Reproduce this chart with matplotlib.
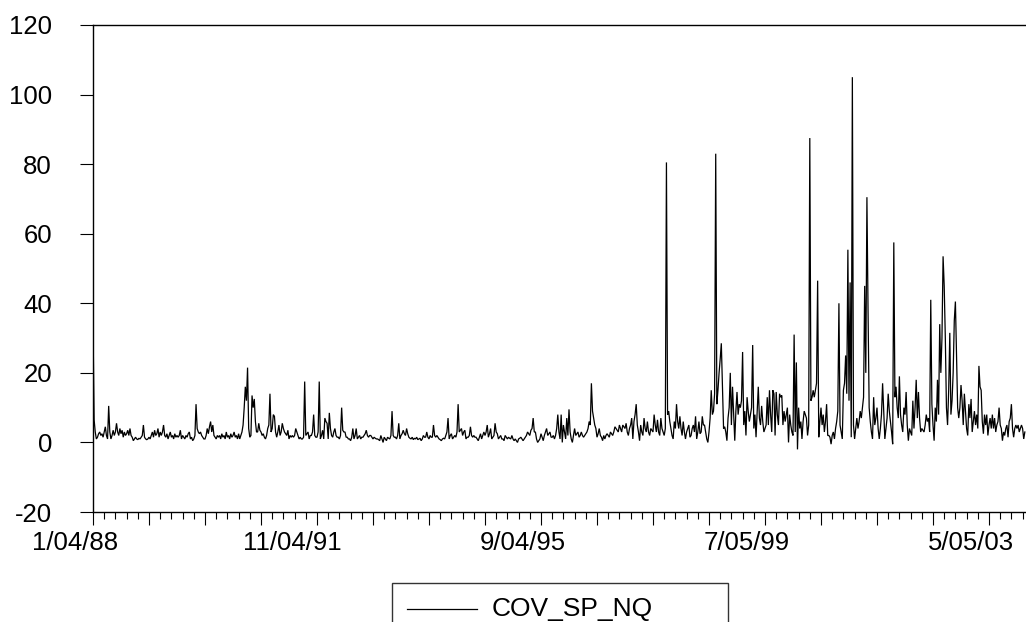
import matplotlib
matplotlib.use("Agg")
import matplotlib.pyplot as plt
from matplotlib.patches import Rectangle
from matplotlib.lines import Line2D
from matplotlib.ticker import MultipleLocator
import numpy as np

plt.rcParams['font.family'] = ['Liberation Sans', 'DejaVu Sans']

series_name = "COV_SP_NQ"

# weekly observations starting 1/04/88
values = [
    34, 6.5, 3, 1, 1.5, 2.5, 3, 2, 2.5, 1.5,
    3, 4.5, 2, 1, 10.5, 3, 1, 2, 3.5, 2,
    3, 5.5, 3, 2, 4, 2.5, 3.5, 1.5, 3, 2,
    2.5, 3.5, 2, 4, 2, 1.5, 0.5, 1, 1.5, 1,
    0.8, 1.2, 1, 1.5, 2, 5, 1.5, 1, 0.8, 1,
    1.5, 1, 2, 3, 1.5, 3.5, 2, 2.5, 4, 1.5,
    3, 2, 3, 5, 2, 1.5, 2.5, 1, 2, 3,
    1.5, 2, 1, 2.5, 1.5, 2, 1.5, 2, 3.5, 1,
    2, 1.5, 1, 2, 1.5, 2.5, 3, 1, 1.5, 0.5,
    1, 2, 11, 4, 3, 2.5, 3, 2, 1.5, 1,
    1, 2, 4, 2.5, 4.5, 6, 3, 5, 2, 1.5,
    1, 2, 1.5, 2, 1, 2.5, 1.5, 2, 1, 3,
    1.5, 2, 1, 2.5, 1.5, 2, 3, 1.5, 2, 1,
    2.5, 1, 2, 3, 5, 10, 16, 12, 21.5, 4,
    1.5, 2, 13.5, 10, 12.5, 6, 3, 3, 5.5, 3.5,
    3, 2, 2.5, 1.5, 1, 2, 4, 5, 14, 3,
    4, 8, 7.5, 3, 1.5, 3, 5, 2, 3, 5.5,
    4, 3, 2.5, 2, 3.5, 1, 2, 1.5, 2, 1.5,
    2, 4, 3, 2, 1, 1.5, 1, 1, 1.5, 17.5,
    2, 2.5, 3, 1, 2, 2, 3, 8, 2, 1.5,
    1.5, 3, 17.5, 1, 2, 3.5, 1, 7, 6, 5.5,
    1, 8.5, 4, 2, 1.5, 3, 4, 2, 1.5, 1.5,
    1, 2, 10, 3.5, 3, 3, 1.5, 1.5, 1, 1,
    0.5, 1.5, 4, 1, 2, 4, 1, 1.5, 2, 1,
    1.5, 1.5, 2, 2.5, 3.5, 2, 1.5, 2, 2, 1.5,
    1, 1.5, 1.2, 1, 1, 0.8, 0.5, 2, 1, 0,
    1.5, 1, 0.5, 1.5, 1.2, 1, 2, 9, 2, 1.5,
    1.5, 1, 2, 5.5, 1, 2, 2.5, 3.5, 2.5, 2,
    4, 2.5, 1.5, 1.2, 1, 1.5, 0.8, 1.2, 1, 1.5,
    0.8, 1, 1.2, 0.5, 1, 2, 1.5, 1.5, 3, 1.5,
    1, 2, 1.5, 1.5, 5, 2, 1.5, 2, 1.5, 1,
    0.8, 0.5, 1, 1.2, 1, 2, 3, 7, 1, 2,
    2.5, 1, 1.5, 2, 1.5, 3, 11, 3, 3.5, 4,
    2, 3, 3.5, 1, 1.5, 1.5, 2, 4.5, 2, 1.5,
    2, 1.5, 1.5, 1, 0.5, 1.5, 2.5, 1, 2, 3,
    2, 3, 5, 1.5, 2.5, 4, 1, 1.5, 2, 5.5,
    3, 2.5, 1, 1.5, 2, 1, 1, 0.5, 2, 1.5,
    1, 1.5, 1.2, 1, 2, 1, 0.5, 1, 0.5, 0,
    1, 1.2, 1.5, 1, 0.5, 1, 1.5, 2, 3, 2.5,
    2, 3.5, 4, 7, 3, 3, 1, 0, 0.5, 1,
    2.5, 1.5, 0.5, 2, 3, 4, 2, 2.5, 3, 1.5,
    1.5, 2, 1, 2, 4, 8, 3, 1, 8, 0,
    5, 3, 1, 7, 2, 9.5, 3, 1, 0, 2,
    4, 2, 2.5, 3, 1.5, 2, 3, 2, 1.5, 2,
    2.5, 3, 4, 6, 5, 17, 9, 7, 5, 4,
    1.5, 2.5, 4, 2, 1.5, 0.5, 2, 1, 2, 2.5,
    2, 1.5, 3, 2.5, 2, 3, 4.5, 4, 3.5, 3,
    5, 4, 3, 5, 4.5, 4, 5.5, 3, 2, 4,
    5, 7, 1, 6, 8, 11, 5, 3, 0.5, 5,
    3, 2, 7, 4, 3, 6, 3, 2, 4, 3.5,
    3, 8, 5, 3, 6.5, 3, 2, 7, 4, 3,
    2, 4, 80.5, 8, 9, 6, 4, 2, 1, 6,
    4, 11, 6, 4, 7.5, 4, 2, 6, 3, 1,
    3, 4, 5, 1.5, 2, 4, 5, 3, 7.5, 1,
    3, 6, 2.5, 3, 7.5, 5, 5, 3, 1, 0,
    3, 7, 15, 8, 9, 14, 83, 11, 15, 20,
    24, 28.5, 16, 4, 4.5, 3, 0.5, 7, 10, 20,
    5, 16, 8, 0.5, 9, 14.5, 8, 11, 10, 12,
    26, 5, 9, 2, 13, 9, 6, 8, 10, 28,
    4, 8, 1.5, 9, 16, 7, 5, 10.5, 6, 3,
    4, 5, 13, 5, 15, 8, 3, 15, 14, 2,
    14.5, 8, 5, 14, 13, 13.5, 5, 9, 6, 8,
    10, 0, 8, 5, 3, 2, 31, 3, 23, -2,
    10, 4, 6, 1, 6, 9, 8, 7, 2, 5,
    87.5, 12, 13, 15, 13, 15, 17, 46.5, 1.5, 6,
    10, 5, 8, 3, 6, 11, 2, 2, 1.5, -0.5,
    2, 3, 1, 4, 6, 9, 40, 5, 3, 1,
    15, 17, 25, 14, 55.4, 12, 46, 1.5, 105, 5,
    1, 4, 7, 4, 6, 9, 7, 10, 13, 45,
    20, 70.5, 38, 10, 6, 3, 1, 13, 5, 7,
    10, 4, 1, 4, 8, 17, 9, 1, 4, 7,
    14, 9, 6, 3, -0.5, 57.5, 13, 16, 10, 7,
    19, 8, 5, 3, 10, 8, 14.5, 5, 0.5, 4,
    3, 2, 12, 4, 10, 18, 7, 14.5, 7, 3,
    4, 3.5, 3, 5, 8, 6, 7, 3, 41, 11,
    5, 0.5, 10, 6, 18, 8, 34, 20, 30, 53.5,
    45, 30, 10, 5, 15, 31.5, 8, 12, 20, 35,
    40.5, 25, 10, 7, 10, 16.5, 12, 5, 14, 9,
    4, 2, 11, 7, 12.5, 3, 6, 9, 5, 8,
    4, 22, 16, 15, 6, 2.5, 8, 5, 8, 2,
    5, 7, 4, 8, 4, 7, 3, 5, 6, 10,
    5, 4, 0.5, 3, 2, 4, 5, 1.5, 6, 7,
    11, 4, 1.5, 4, 5, 4, 5, 3, 4, 5,
    4, 1, 3,
]

label_obs = [0, 200, 400, 600, 800]
label_text = ["1/04/88", "11/04/91", "9/04/95", "7/05/99", "5/05/03"]
y_ticks = [-20, 0, 20, 40, 60, 80, 100, 120]

W, H = 1026, 622
PX = 72 / 100.0  # points per pixel
fig = plt.figure(figsize=(W / 100, H / 100), dpi=100)
left_px, right_px, top_px, bottom_px = 93, 1026, 25, 512
ax = fig.add_axes([left_px / W, 1 - bottom_px / H,
                   (right_px - left_px) / W, (bottom_px - top_px) / H])

obs = np.arange(len(values))
ax.plot(obs, values, color='black', lw=0.9, solid_joinstyle='miter')

px_per_obs = 1.12
ax.set_xlim(0, (right_px - left_px) / px_per_obs)
ax.set_ylim(-20, 120)

for s in ['left', 'top', 'bottom']:
    ax.spines[s].set_linewidth(1.0)
    ax.spines[s].set_color('black')
ax.spines['right'].set_visible(False)

ax.set_yticks(y_ticks)
ax.set_yticklabels([str(v) for v in y_ticks])
ax.tick_params(axis='y', direction='out', length=13 * PX, width=0.8,
               pad=28 * PX, labelsize=18.5, colors='black')

ax.xaxis.set_major_locator(MultipleLocator(50))
ax.xaxis.set_minor_locator(MultipleLocator(10))
ax.tick_params(axis='x', which='major', direction='out', length=13 * PX,
               width=0.8, labelbottom=False)
ax.tick_params(axis='x', which='minor', direction='out', length=7 * PX,
               width=0.8)

for o, t in zip(label_obs, label_text):
    ax.annotate(t, xy=(o, 0), xycoords=('data', 'axes fraction'),
                xytext=(25 * PX, -19 * PX), textcoords='offset points',
                ha='right', va='top', fontsize=18.5, annotation_clip=False)

# legend box (cut by the bottom edge of the image)
fig.add_artist(Rectangle((392 / W, -0.1), (728 - 392) / W, 0.1 + 1 - 583 / H,
                         transform=fig.transFigure, fill=False,
                         edgecolor='#333333', lw=1.0))
fig.add_artist(Line2D([407 / W, 477 / W], [1 - 609 / H] * 2,
                      transform=fig.transFigure, color='black', lw=0.9))
fig.text(492 / W, 1 - 616 / H, series_name, fontsize=19,
         ha='left', va='baseline')

fig.savefig("out.png", dpi=100)
